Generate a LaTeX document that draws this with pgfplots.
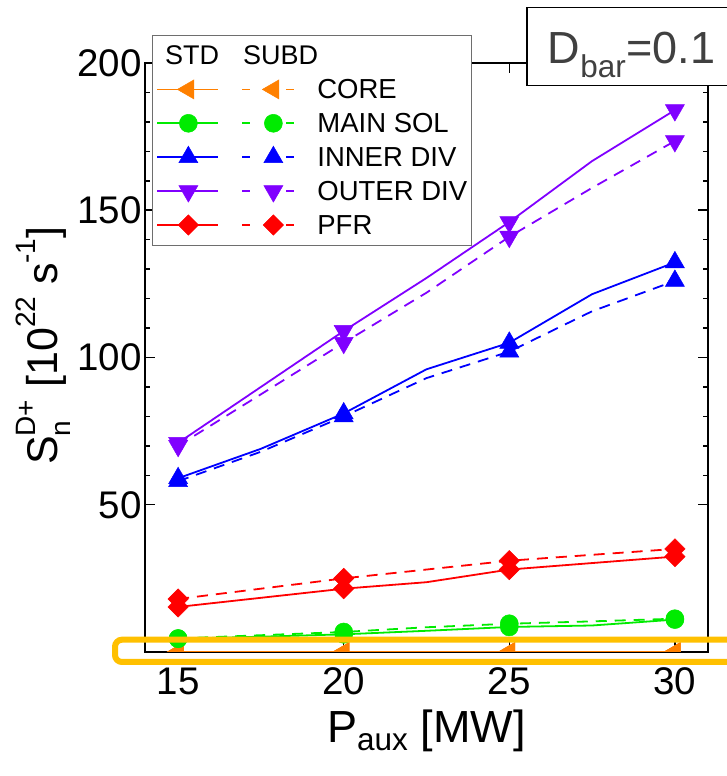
\documentclass[border=0pt]{standalone}
\usepackage{pgfplots}
\usepackage{pgfplotstable}
\pgfplotsset{compat=1.18}
\usepackage{fontspec}
\setmainfont{Liberation Sans}
\definecolor{cOr}{RGB}{255,128,0}
\definecolor{cGr}{RGB}{0,235,0}
\definecolor{cBl}{RGB}{0,0,255}
\definecolor{cPu}{RGB}{128,0,255}
\definecolor{cRe}{RGB}{255,0,0}
\definecolor{cHi}{RGB}{255,192,0}
\definecolor{cTx}{RGB}{64,64,64}
\definecolor{cLg}{RGB}{110,110,110}
\newcommand{\sps}[1]{\raisebox{0.5em}{\fontsize{28}{29}\selectfont #1}}
\newcommand{\sbs}[1]{\raisebox{-0.3em}{\fontsize{28}{29}\selectfont #1}}

\pgfplotstableread{
x     cs    cd    ms    md    is    id     os     od     ps    pd
15    0     0     4.5   4.6   59    58     71     70     15.3  18.0
17.5  0     0     5.2   5.7   69    68     90     87.5   18.4  21.5
20    0     0     6.0   6.8   81    80     109    105    21.5  25.0
22.5  0     0     7.2   8.4   96    93     127    122    23.7  28.0
25    0     0     8.5   9.6   105   102    146    141    28.0  31.0
27.5  0     0     9.0   10.4  121.5 115.7  166.7  157.6  30.2  33.0
30    0     0     11.0  11.3  132.3 126    184    173.5  32.4  35.0
}\datatable

\pgfplotsset{
  dualleg/.style={legend image code/.code={
    \draw[mark repeat=2,mark phase=2] plot coordinates {(0pt,0pt)(31pt,0pt)(61pt,0pt)};
    \draw[solid] (85pt,0pt) -- (93pt,0pt) (129pt,0pt) -- (137pt,0pt);
    \draw plot coordinates {(116pt,0pt)};
    \path[draw=none,fill=none] (0pt,-13pt) rectangle (160pt,13pt);
  }},
  stdl/.style={line width=1.8pt, solid, mark repeat=2, dualleg},
  subl/.style={line width=1.8pt, dash pattern=on 11pt off 8pt, mark repeat=2, forget plot},
}

\begin{document}
\begin{tikzpicture}
\begin{axis}[
  at={(145pt,124pt)}, anchor=south west,
  scale only axis, width=563pt, height=589pt,
  xmin=14, xmax=31, ymin=0, ymax=200,
  xtick={15,20,25,30}, ytick={50,100,150,200},
  minor y tick num=4,
  tick align=inside,
  major tick length=10pt, minor tick length=5pt,
  axis line style={line width=1.5pt},
  every tick/.style={black, line width=1.5pt},
  tick label style={font=\fontsize{38.5}{42}\selectfont},
  xticklabel style={yshift=-12pt},
  /pgf/number format/assume math mode=true,
  xlabel={P\textsubscript{aux} [MW]},
  ylabel={S\rlap{\sbs{n}}\sps{D+} [10\sps{22} s\sps{-1}]},
  xlabel style={font=\fontsize{45}{50}\selectfont, at={(axis description cs:0.5,-0.1528)}, anchor=base},
  ylabel style={font=\fontsize{43}{48}\selectfont, at={(axis description cs:-0.156,0.52)}, anchor=base},
  clip marker paths=true,
  legend style={at={(axis description cs:0.0124,1.0475)}, anchor=north west,
    draw=cLg, line width=1pt, fill=white, inner xsep=4pt, inner ysep=7pt,
    row sep=7.9pt, font=\fontsize{27.5}{31}\selectfont,
    nodes={inner sep=0pt, text height=22pt, text depth=4pt}},
  legend cell align=left,
]
\addlegendimage{empty legend}
\addlegendentry{}

% CORE
\addplot[cOr, stdl, mark=triangle*, mark size=11pt, mark options={solid, rotate=90, fill=cOr, line width=0.5pt}] table[x=x,y=cs]{\datatable};
\addlegendentry{CORE}
\addplot[cOr, subl, mark=triangle*, mark size=11pt, mark options={solid, rotate=90, fill=cOr, line width=0.5pt}] table[x=x,y=cd]{\datatable};

% MAIN SOL
\addplot[cGr, stdl, mark=*, mark size=9pt, mark options={solid, fill=cGr, line width=0.5pt}] table[x=x,y=ms]{\datatable};
\addlegendentry{MAIN SOL}
\addplot[cGr, subl, mark=*, mark size=9pt, mark options={solid, fill=cGr, line width=0.5pt}] table[x=x,y=md]{\datatable};

% INNER DIV
\addplot[cBl, stdl, mark=triangle*, mark size=11pt, mark options={solid, fill=cBl, line width=0.5pt}] table[x=x,y=is]{\datatable};
\addlegendentry{INNER DIV}
\addplot[cBl, subl, mark=triangle*, mark size=11pt, mark options={solid, fill=cBl, line width=0.5pt}] table[x=x,y=id]{\datatable};

% OUTER DIV
\addplot[cPu, stdl, mark=triangle*, mark size=11pt, mark options={solid, rotate=180, fill=cPu, line width=0.5pt}] table[x=x,y=os]{\datatable};
\addlegendentry{OUTER DIV\hspace{6pt}}
\addplot[cPu, subl, mark=triangle*, mark size=11pt, mark options={solid, rotate=180, fill=cPu, line width=0.5pt}] table[x=x,y=od]{\datatable};

% PFR
\addplot[cRe, stdl, mark=square*, mark size=7.2pt, mark options={solid, rotate=45, fill=cRe, line width=0.5pt}] table[x=x,y=ps]{\datatable};
\addlegendentry{PFR}
\addplot[cRe, subl, mark=square*, mark size=7.2pt, mark options={solid, rotate=45, fill=cRe, line width=0.5pt}] table[x=x,y=pd]{\datatable};
\end{axis}

% legend header
\node[anchor=base west, inner sep=0pt, font=\fontsize{27}{30}\selectfont] at (165pt,711.3pt) {STD};
\node[anchor=base west, inner sep=0pt, font=\fontsize{27}{30}\selectfont] at (243pt,711.3pt) {SUBD};

\node[draw=black, line width=1.5pt, fill=white, anchor=north west, minimum height=78pt,
  inner xsep=21pt, text height=33pt, text depth=0pt, text=cTx,
  font=\fontsize{45}{50}\selectfont] at (526pt,769pt) {D\textsubscript{bar}=0.1};
\draw[cHi, line width=6pt, rounded corners=7pt] (115pt,136.3pt) rectangle (745pt,114pt);

\pgfresetboundingbox
\path (0pt,0pt) rectangle (726pt,776pt);
\end{tikzpicture}
\end{document}
